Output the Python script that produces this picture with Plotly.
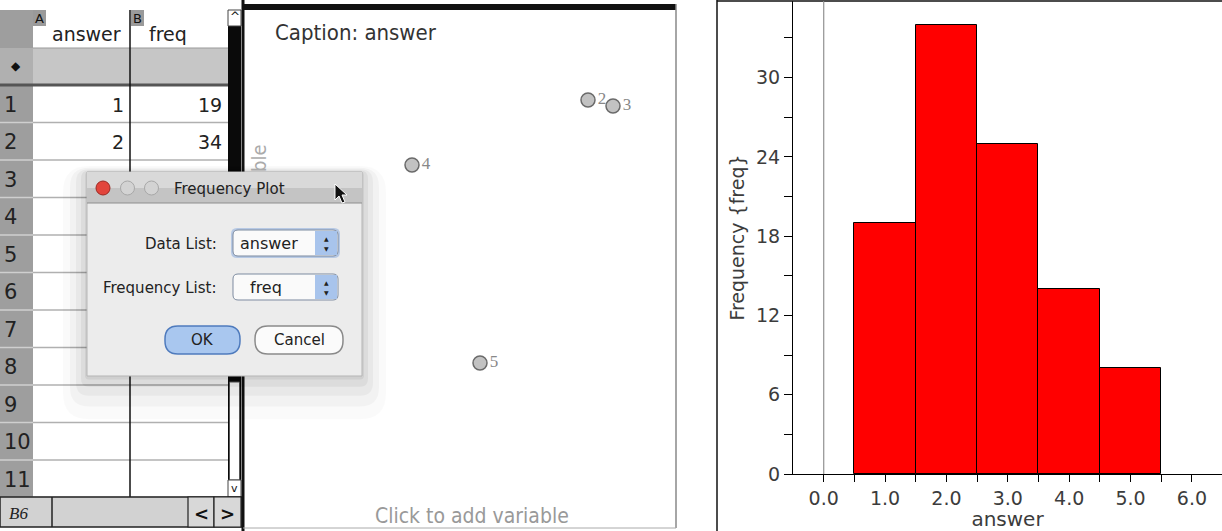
import plotly.graph_objects as go

# spreadsheet columns / histogram data
answer = [1, 2, 3, 4, 5]
freq = [19, 34, 25, 14, 8]
bin_edges = [a - 0.5 for a in answer] + [answer[-1] + 0.5]

x_ticks = [0, 1, 2, 3, 4, 5, 6]
x_tick_labels = ["0.0", "1.0", "2.0", "3.0", "4.0", "5.0", "6.0"]
y_ticks = [0, 6, 12, 18, 24, 30]
y_minor = [3, 9, 15, 21, 27, 33]

# dot plot in the caption panel (screen positions)
caption_labels = ["2", "3", "4", "5"]
caption_x = [588, 613, 412, 480]
caption_y = [100, 106, 165, 363]

W, H = 1222, 531
UI_FONT = "Lucida Grande, DejaVu Sans, Liberation Sans"
NARROW = "Liberation Sans Narrow, DejaVu Sans Condensed, Liberation Sans"

shapes = []
annotations = []


def px(x):
    return x / W


def py(y):
    return 1 - y / H


def rect(x0, y0, x1, y1, fill, line=None, lw=1):
    shapes.append(dict(type="rect", xref="paper", yref="paper",
                       x0=px(x0), x1=px(x1), y0=py(y1), y1=py(y0),
                       fillcolor=fill, layer="above",
                       line=dict(color=line or "rgba(0,0,0,0)", width=lw if line else 0)))


def seg(x0, y0, x1, y1, color, lw=1):
    shapes.append(dict(type="line", xref="paper", yref="paper",
                       x0=px(x0), x1=px(x1), y0=py(y0), y1=py(y1),
                       line=dict(color=color, width=lw), layer="above"))


def circ(cx, cy, r, fill, line):
    shapes.append(dict(type="circle", xref="paper", yref="paper",
                       x0=px(cx - r), x1=px(cx + r), y0=py(cy + r), y1=py(cy - r),
                       fillcolor=fill, line=dict(color=line, width=1), layer="above"))


def rrect(x0, y0, x1, y1, r, fill, line, lw=1):
    pts = [("M", x0 + r, y0), ("L", x1 - r, y0), ("Q", x1, y0, x1, y0 + r),
           ("L", x1, y1 - r), ("Q", x1, y1, x1 - r, y1), ("L", x0 + r, y1),
           ("Q", x0, y1, x0, y1 - r), ("L", x0, y0 + r), ("Q", x0, y0, x0 + r, y0)]
    path = ""
    for p in pts:
        coords = p[1:]
        path += p[0] + " " + " ".join(
            f"{px(coords[i]):.5f},{py(coords[i + 1]):.5f}" for i in range(0, len(coords), 2)) + " "
    shapes.append(dict(type="path", xref="paper", yref="paper", path=path + "Z",
                       fillcolor=fill, line=dict(color=line, width=lw), layer="above"))


def text(x, y, s, size, color="#222", anchor="left", family=UI_FONT, angle=0):
    annotations.append(dict(xref="paper", yref="paper", x=px(x), y=py(y), text=s,
                            showarrow=False, xanchor=anchor, yanchor="middle",
                            textangle=angle, font=dict(size=size, color=color, family=family)))


# ---------------- spreadsheet ----------------
rect(0, 0, 242, 10, "#ececec")
rect(0, 10, 33, 497, "#9e9e9e")
rect(33, 10, 228, 48, "white")
rect(33, 48, 228, 85, "#c6c6c6")
rect(0, 48, 33, 85, "#b0b0b0")
rect(33, 85, 228, 497, "white")
rect(33, 10, 46, 26, "#9a9a9a")
rect(131, 10, 144, 26, "#9a9a9a")
text(39.5, 18, "A", 13, "#111", "center")
text(137.5, 18, "B", 13, "#111", "center")
text(50, 34, "answer", 19, "#222")
text(147, 34, "freq", 19, "#222")
text(16, 66, "◆", 12, "#111", "center")
seg(33, 48, 228, 48, "#999", 1)
row_top, row_h = 85, 37.5
for k in range(12):
    yb = row_top + k * row_h
    seg(33, yb, 228, yb, "#b0b0b0", 1.5)
    seg(0, yb, 33, yb, "#cfcfcf", 1.5)
for k in range(11):
    text(2, row_top + (k + 0.5) * row_h + 1, str(k + 1), 21, "#222")
seg(0, 85, 228, 85, "#555", 3)
seg(130, 10, 130, 497, "#111", 1.5)
for i in range(2):
    yc = row_top + (i + 0.5) * row_h + 1
    text(126, yc, str(answer[i]), 19, "#222", "right")
    text(224, yc, str(freq[i]), 19, "#222", "right")
# scroll bar
rect(228, 10, 241, 480, "#0a0a0a")
rect(228, 10, 241, 26, "white", "#444", 1)
text(234.5, 17, "^", 12, "#111", "center")
rect(229.5, 382, 239.5, 480, "white", "#555", 1)
rect(228, 480, 241, 497, "white", "#444", 1)
text(234.5, 488, "v", 11, "#111", "center")
# bottom bar
rect(0, 497, 242, 527, "#d2d2d2", "#222", 1.5)
seg(52, 497, 52, 527, "#222", 1.5)
rect(188, 497, 214, 527, "#d8d8d8", "#222", 1.2)
rect(214, 497, 241, 527, "#d8d8d8", "#222", 1.2)
text(7, 513, "<i>B6</i>", 17, "#222", family="Liberation Serif, DejaVu Serif")
text(201, 513, "<b>&lt;</b>", 18, "#111", "center")
text(227.5, 513, "<b>&gt;</b>", 18, "#111", "center")

# ---------------- caption panel ----------------
seg(243, 0, 243, 531, "#111", 3)
rect(243, 4, 676, 10, "#111")
seg(676, 4, 676, 528, "#888", 1.5)
seg(243, 528, 676, 528, "#aaa", 1)
text(273, 33, "Caption: answer", 22, "#333", family=NARROW)
text(472, 516, "Click to add variable", 21, "#999", "center", family=NARROW)
text(259, 158, "ble", 20, "#aaa", "center", family=NARROW, angle=-90)

# ---------------- dialog ----------------
for grow, alpha in [(24, 0.02), (17, 0.03), (11, 0.04), (6, 0.05), (2, 0.06)]:
    rrect(87 - grow, 172 - grow / 4, 362 + grow, 376 + grow * 1.8, grow + 2,
          f"rgba(0,0,0,{alpha})", "rgba(0,0,0,0)", 0)
rect(87, 172, 362, 376, "#ececec", "#b5b5b5", 1)
rect(87, 172, 362, 188, "#d9d9d9")
rect(87, 188, 362, 203, "#c4c4c4")
seg(87, 203, 362, 203, "#8e8e8e", 1)
circ(103, 188, 7, "#e2453c", "#9c2a24")
circ(127.5, 188, 7, "#d3d3d3", "#a8a8a8")
circ(151.5, 188, 7, "#d3d3d3", "#a8a8a8")
text(229, 189, "Frequency Plot", 15, "#222", "center")
text(219, 244, "Data List:", 15, "#222", "right")
text(219, 288, "Frequency List:", 15, "#222", "right")
rrect(231, 228, 340, 258, 6, "rgba(120,160,220,0.45)", "rgba(0,0,0,0)")
rrect(233, 230, 338, 256, 5, "#fafafa", "#7d8ba0", 1)
rrect(233, 274, 338, 300, 5, "#fafafa", "#7d8ba0", 1)
rect(315, 231, 337, 255, "#a8c4ec")
rect(315, 275, 337, 299, "#a8c4ec")
for yc in (243, 287):
    text(326, yc - 5, "▲", 6, "#222", "center")
    text(326, yc + 5, "▼", 6, "#222", "center")
text(300, 243, "answer", 16, "#222", "right")
text(248, 287, "freq", 16, "#222")
rrect(165, 326, 240, 354, 13, "#a9c7ef", "#4f7bbd", 1.5)
rrect(255, 326, 343, 354, 13, "#fbfbfb", "#8a8a8a", 1.5)
text(202.5, 340, "OK", 15, "#222", "center")
text(299, 340, "Cancel", 15, "#222", "center")
# mouse pointer
cursor = [(335, 184), (335, 200), (339, 196), (342, 203), (345, 202), (342, 195), (347, 195)]
shapes.append(dict(type="path", xref="paper", yref="paper",
                   path="M " + " L ".join(f"{px(a):.5f},{py(b):.5f}" for a, b in cursor) + " Z",
                   fillcolor="#111", line=dict(color="white", width=1), layer="above"))

# ---------------- histogram panel frame ----------------
seg(717, 0, 717, 531, "#111", 1.5)
seg(717, 1, 1222, 1, "#111", 1.5)

fig = go.Figure()
fig.add_trace(go.Bar(
    x=answer, y=freq, width=1,
    marker=dict(color="#ff0000", line=dict(color="black", width=1)),
    xaxis="x", yaxis="y", hoverinfo="x+y",
))
fig.add_trace(go.Scatter(
    x=caption_x, y=caption_y, mode="markers+text",
    text=caption_labels, textposition="middle right",
    textfont=dict(size=17, color="#888", family="Liberation Serif, DejaVu Serif"),
    marker=dict(size=14, color="#c2c2c2", line=dict(color="#6a6a6a", width=1.5)),
    xaxis="x2", yaxis="y2", hoverinfo="text",
))
fig.add_shape(type="line", xref="x", yref="y", x0=0, x1=0, y0=0, y1=35.8,
              line=dict(color="#9a9a9a", width=1))

tick_font = dict(family="DejaVu Sans", size=19, color="#3c3c3c")
fig.update_layout(
    width=W, height=H,
    margin=dict(l=0, r=0, t=0, b=0),
    paper_bgcolor="white", plot_bgcolor="white",
    showlegend=False,
    bargap=0,
    shapes=shapes + list(fig.layout.shapes),
    annotations=annotations,
    xaxis=dict(
        domain=[793 / W, 1.0], range=[-0.5, 6.49], anchor="y",
        tickmode="array", tickvals=x_ticks, ticktext=x_tick_labels,
        ticks="outside", ticklen=7, tickcolor="black", tickfont=tick_font,
        minor=dict(tickvals=bin_edges, ticks="outside", ticklen=7, tickcolor="black"),
        showline=True, linecolor="black", linewidth=1,
        showgrid=False, zeroline=False, automargin=False,
        title=dict(text="answer", font=dict(family="DejaVu Sans", size=20, color="#3c3c3c"), standoff=0),
    ),
    yaxis=dict(
        domain=[1 - 474 / H, 1 - 1 / H], range=[0, 35.8], anchor="x",
        tickmode="array", tickvals=y_ticks,
        ticks="outside", ticklen=8, tickcolor="black", tickfont=tick_font,
        minor=dict(tickvals=y_minor, ticks="outside", ticklen=8, tickcolor="black"),
        showline=True, linecolor="black", linewidth=1,
        showgrid=False, zeroline=False, automargin=False,
        title=dict(text="Frequency {freq}", font=dict(family="DejaVu Sans", size=19, color="#3c3c3c"), standoff=6),
    ),
    xaxis2=dict(domain=[245 / W, 675 / W], range=[245, 675], anchor="y2",
                visible=False, fixedrange=True),
    yaxis2=dict(domain=[1 - 527 / H, 1 - 10 / H], range=[527, 10], anchor="x2",
                visible=False, fixedrange=True),
)

# the page's default 8px body margin would push the figure off the window
fig.write_html("out.html", config={"displayModeBar": False},
               post_script="document.body.style.margin='0';")
